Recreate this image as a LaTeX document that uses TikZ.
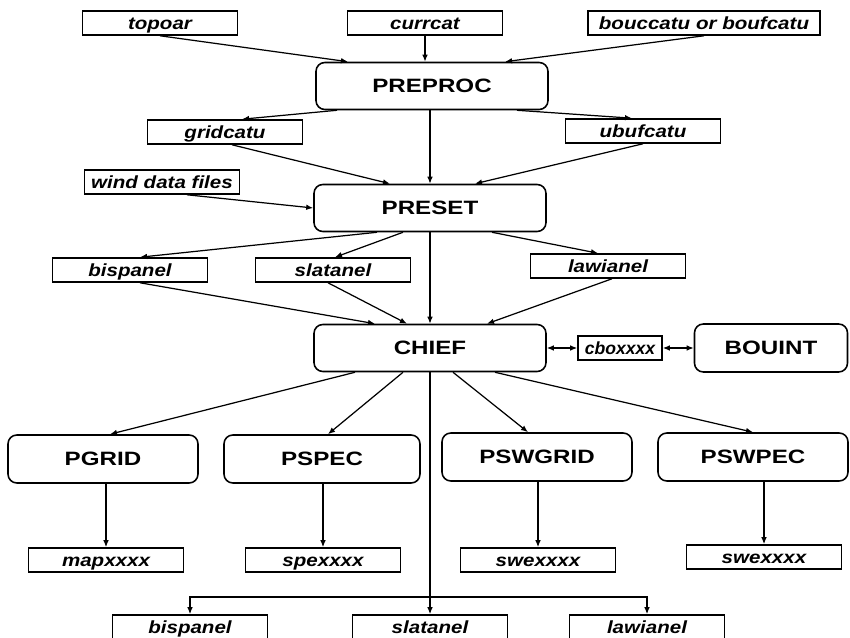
\documentclass[tikz,border=0pt]{standalone}
\usepackage{fontspec}
\setmainfont{Liberation Sans}
\newfontfamily\filefont[FakeStretch=1.17]{Liberation Sans}
\newfontfamily\modfont[FakeStretch=1.25]{Liberation Sans}
\usetikzlibrary{positioning, arrows.meta}

\begin{document}
\begin{tikzpicture}[
x=0.02cm, y=-0.02cm,
>={Latex[length=4pt,width=3.2pt]},
file/.style={rectangle, draw, line width=0.9pt, minimum width=3.1cm, minimum height=0.48cm, inner sep=1pt, text height=8.6pt, text depth=1.4pt, font=\filefont\bfseries\itshape\fontsize{10}{12}\selectfont},
module/.style={rectangle, rounded corners=5pt, draw, line width=0.9pt, minimum width=4.64cm, minimum height=0.94cm, font=\modfont\bfseries\fontsize{11}{13}\selectfont},
submodule/.style={module, minimum width=3.8cm, minimum height=0.96cm},
line/.style={->, line width=0.7pt},
bline/.style={<->, line width=0.7pt}
]
\useasboundingbox (0,0) rectangle (850,638);
\clip (0,0) rectangle (850,638);

% Nodes
\node[file] (topoar) at (160,23) {topoar};
\node[file] (currcat) at (425,23) {currcat};
\node[file, minimum width=4.64cm] (bouccatu) at (704,23) {bouccatu or boufcatu};
\node[module] (preproc) at (432,86) {PREPROC};
\node[file] (gridcatu) at (225,132) {gridcatu};
\node[file] (ubufcatu) at (643,131) {ubufcatu};
\node[file] (wind) at (162,182) {wind data files};
\node[module] (preset) at (430,208) {PRESET};
\node[file] (bispanel) at (130,270) {bispanel};
\node[file] (slatanel) at (333,270) {slatanel};
\node[file] (lawianel) at (608,266) {lawianel};
\node[module] (chief) at (430,348) {CHIEF};
\node[file, minimum width=1.68cm, inner sep=0pt, font=\bfseries\itshape\fontsize{10}{12}\selectfont] (cbox) at (620,348) {cboxxxx};
\node[submodule, minimum width=3.06cm] (bouint) at (771,348) {BOUINT};
\node[submodule] (pgrid) at (103,459) {PGRID};
\node[submodule, minimum width=3.92cm] (pspec) at (322,459) {PSPEC};
\node[submodule] (pswgrid) at (537,457) {PSWGRID};
\node[submodule] (pswpec) at (753,457) {PSWPEC};
\node[file] (mapxxxx) at (106,560) {mapxxxx};
\node[file] (spexxxx) at (323,560) {spexxxx};
\node[file] (swexxxa) at (538,560) {swexxxx};
\node[file] (swexxxb) at (764,557) {swexxxx};
\node[file] (bispanelout) at (190,627) {bispanel};
\node[file] (slatanelout) at (430,627) {slatanel};
\node[file] (lawianelout) at (647,627) {lawianel};
\coordinate (fork) at (430,597);

% Connections
\draw[line] (topoar.south) -- ([shift={(-84,0)}]preproc.north);
\draw[line] (currcat.south) -- (currcat.south |- preproc.north);
\draw[line] (bouccatu.south) -- ([shift={(73,0)}]preproc.north);
\draw[line] ([shift={(-95,0)}]preproc.south) -- ([shift={(17,0)}]gridcatu.north);
\draw[line] ([shift={(85,0)}]preproc.south) -- ([shift={(-11,0)}]ubufcatu.north);
\draw[line] (preset.north |- preproc.south) -- (preset.north);
\draw[line] ([shift={(7,0)}]gridcatu.south) -- ([shift={(-40,0)}]preset.north);
\draw[line] (ubufcatu.south) -- ([shift={(45,0)}]preset.north);
\draw[line] ([shift={(25,0)}]wind.south) -- (preset.west);
\draw[line] ([shift={(-53,0)}]preset.south) -- ([shift={(10,0)}]bispanel.north);
\draw[line] ([shift={(-27,0)}]preset.south) -- ([shift={(2,0)}]slatanel.north);
\draw[line] ([shift={(62,0)}]preset.south) -- ([shift={(-10,0)}]lawianel.north);
\draw[line] (preset.south) -- (chief.north);
\draw[line] ([shift={(10,0)}]bispanel.south) -- ([shift={(-55,0)}]chief.north);
\draw[line] ([shift={(-5,0)}]slatanel.south) -- ([shift={(-23,0)}]chief.north);
\draw[line] ([shift={(4,0)}]lawianel.south) -- ([shift={(57,0)}]chief.north);
\draw[bline] (chief.east) -- (cbox.west);
\draw[bline] (cbox.east) -- (bouint.west);
\draw[line] ([shift={(-75,0)}]chief.south) -- ([shift={(7,0)}]pgrid.north);
\draw[line] ([shift={(-27,0)}]chief.south) -- ([shift={(6,0)}]pspec.north);
\draw[line] ([shift={(23,0)}]chief.south) -- ([shift={(-9,0)}]pswgrid.north);
\draw[line] ([shift={(65,0)}]chief.south) -- (pswpec.north);
\draw[line] (pgrid.south -| mapxxxx.north) -- (mapxxxx.north);
\draw[line] (pspec.south -| spexxxx.north) -- (spexxxx.north);
\draw[line] (pswgrid.south -| swexxxa.north) -- (swexxxa.north);
\draw[line] (pswpec.south -| swexxxb.north) -- (swexxxb.north);
\draw[line] (chief.south) -- (slatanelout.north);
\draw[line] (fork) -| (bispanelout.north);
\draw[line] (fork) -| (lawianelout.north);

\end{tikzpicture}
\end{document}
